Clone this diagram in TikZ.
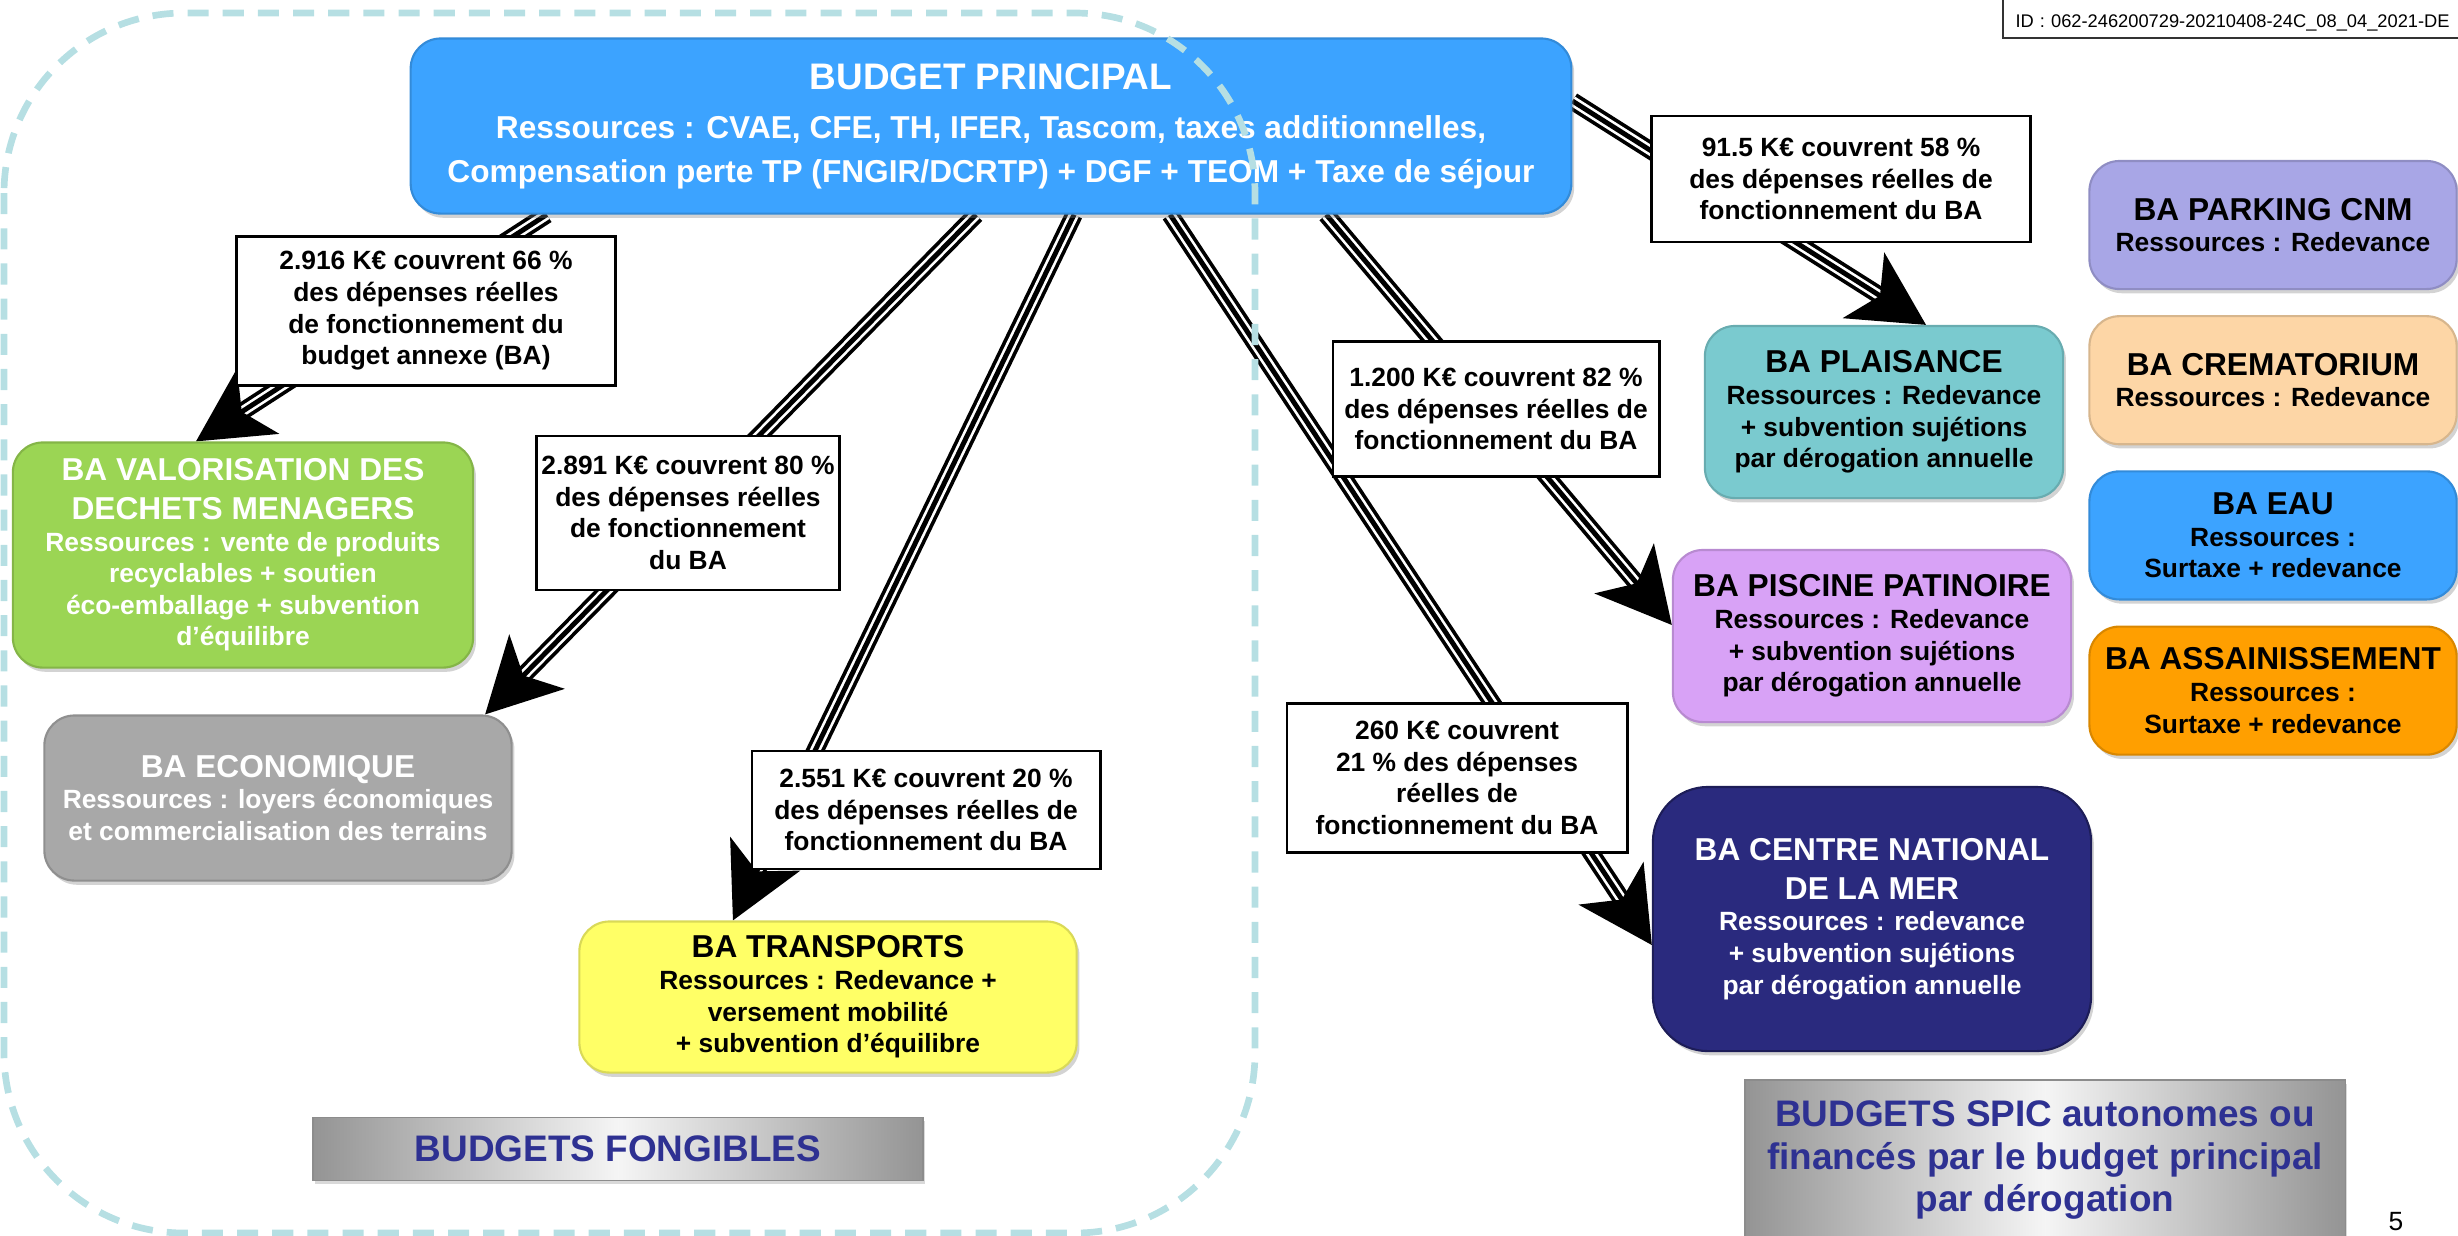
\documentclass[tikz,border=0pt]{standalone}
\usepackage{fontspec}
\setmainfont{Liberation Sans}
\usetikzlibrary{positioning}
\usetikzlibrary{arrows.meta}
\usetikzlibrary{shadows}
\pgfdeclarelayer{background}
\pgfsetlayers{background,main}
\definecolor{principal}{HTML}{3CA3FF}
\definecolor{valorisation}{HTML}{9BD554}
\definecolor{economique}{HTML}{A8A8A8}
\definecolor{transports}{HTML}{FFFF66}
\definecolor{plaisance}{HTML}{7ACACF}
\definecolor{piscine}{HTML}{D8A2F6}
\definecolor{centremer}{HTML}{2A2A7E}
\definecolor{parking}{HTML}{A8A6E6}
\definecolor{crematorium}{HTML}{FDD6A6}
\definecolor{assainissement}{HTML}{FF9F00}
\definecolor{navytext}{HTML}{2E3192}
\definecolor{fongible}{HTML}{B6DFE3}
\newcommand{\bigtitle}{\fontsize{10.5}{12.5}\selectfont}
\newcommand{\boxtitle}{\fontsize{9}{11}\selectfont}
\tikzset{
	block/.style={
		rectangle,
		rounded corners=.3cm,
		align=center,
		inner sep=0pt,
		line width=.6pt,
		font=\fontsize{7.5}{9}\selectfont\bfseries,
		drop shadow={opacity=.35, shadow xshift=.8pt, shadow yshift=-1.2pt}
	},
	cover/.style={
		rectangle,
		draw,
		fill=white,
		line width=.8pt,
		align=center,
		inner sep=0pt,
		font=\fontsize{7.5}{9}\selectfont\bfseries
	},
	banner/.style={
		rectangle,
		draw=black!45,
		left color=black!42,
		right color=black!42,
		middle color=black!4,
		text=navytext,
		align=center,
		inner sep=0pt,
		font=\fontsize{10.5}{12}\selectfont\bfseries,
		drop shadow={opacity=.3, shadow xshift=.6pt, shadow yshift=-1pt}
	},
	stripe/.style={
		line width=5pt,
		shorten >=14pt,
		postaction={draw, white, line width=2.9pt},
		postaction={draw, black, line width=1.4pt, shorten >=0pt, -{Stealth[length=21pt, width=22pt, inset=5.5pt]}}
	}
}
\begin{document}
\begin{tikzpicture}[x=0.01cm, y=-0.01cm]
			\useasboundingbox (0,0) rectangle (2458,1235);
			% budget principal and fungible budgets
			\draw node[block, fill=principal, draw=principal!85!black, text=white, minimum width=11.6cm, minimum height=1.75cm, font=\fontsize{9}{12.5}\selectfont\bfseries](Principal) at (991,126){\bigtitle BUDGET PRINCIPAL\\[1.5pt] Ressources : CVAE, CFE, TH, IFER, Tascom, taxes additionnelles,\\ Compensation perte TP (FNGIR/DCRTP) + DGF + TEOM + Taxe de séjour};
			\draw node[block, fill=valorisation, draw=valorisation!85!black, text=white, minimum width=4.6cm, minimum height=2.25cm](Valorisation) at (243,555){\boxtitle BA VALORISATION DES\\[2pt] \boxtitle DECHETS MENAGERS\\ Ressources : vente de produits\\ recyclables + soutien\\ éco-emballage + subvention\\ d’équilibre};
			\draw node[block, fill=economique, draw=economique!85!black, text=white, minimum width=4.67cm, minimum height=1.65cm](Economique) at (278,798){\boxtitle BA ECONOMIQUE\\ Ressources : loyers économiques\\ et commercialisation des terrains};
			\draw node[block, fill=transports, draw=transports!85!black, minimum width=4.97cm, minimum height=1.51cm](Transports) at (828,997){\boxtitle BA TRANSPORTS\\ Ressources : Redevance +\\ versement mobilité\\ + subvention d’équilibre};
			\draw node[banner, minimum width=6.1cm, minimum height=.63cm](Fongibles) at (618,1149){BUDGETS FONGIBLES};
			
			% budgets SPIC
			\draw node[block, fill=plaisance, draw=plaisance!85!black, minimum width=3.58cm, minimum height=1.72cm](Plaisance) at (1884,412){\boxtitle BA PLAISANCE\\ Ressources : Redevance\\ + subvention sujétions\\ par dérogation annuelle};
			\draw node[block, fill=piscine, draw=piscine!85!black, minimum width=3.98cm, minimum height=1.72cm](Piscine) at (1872,636){\boxtitle BA PISCINE PATINOIRE\\ Ressources : Redevance\\ + subvention sujétions\\ par dérogation annuelle};
			\draw node[block, rounded corners=.55cm, fill=centremer, draw=centremer!70!black, text=white, minimum width=4.38cm, minimum height=2.64cm](CentreMer) at (1872,919){\boxtitle BA CENTRE NATIONAL\\[2pt] \boxtitle DE LA MER\\ Ressources : redevance\\ + subvention sujétions\\ par dérogation annuelle};
			\draw node[block, fill=parking, draw=parking!85!black, minimum width=3.67cm, minimum height=1.28cm](Parking) at (2273,225){\boxtitle BA PARKING CNM\\ Ressources : Redevance};
			\draw node[block, fill=crematorium, draw=crematorium!85!black, minimum width=3.67cm, minimum height=1.28cm, below=.25cm of Parking](Crematorium){\boxtitle BA CREMATORIUM\\ Ressources : Redevance};
			\draw node[block, fill=principal, draw=principal!85!black, minimum width=3.67cm, minimum height=1.28cm, below=.25cm of Crematorium](Eau){\boxtitle BA EAU\\ Ressources :\\ Surtaxe + redevance};
			\draw node[block, fill=assainissement, draw=assainissement!85!black, minimum width=3.67cm, minimum height=1.28cm, below=.25cm of Eau](Assainissement){\boxtitle BA ASSAINISSEMENT\\ Ressources :\\ Surtaxe + redevance};
			\draw node[banner, minimum width=6.0cm, minimum height=1.6cm](Spic) at (2045,1160){BUDGETS SPIC autonomes ou\\ financés par le budget principal\\ par dérogation};
			
			% coverage labels
			\draw node[cover, minimum width=3.78cm, minimum height=1.49cm](CoverValo) at (426,311){2.916 K€ couvrent 66 \%\\ des dépenses  réelles\\ de fonctionnement du\\ budget annexe (BA)};
			\draw node[cover, minimum width=3.03cm, minimum height=1.54cm](CoverEco) at (688,513){2.891 K€ couvrent 80 \%\\ des dépenses réelles\\ de fonctionnement\\ du BA};
			\draw node[cover, minimum width=3.48cm, minimum height=1.18cm](CoverTransports) at (926,810){2.551 K€ couvrent 20 \%\\ des dépenses  réelles de\\ fonctionnement  du BA};
			\draw node[cover, minimum width=3.79cm, minimum height=1.26cm](CoverPlaisance) at (1841,179){91.5 K€ couvrent  58 \%\\ des dépenses réelles de\\ fonctionnement du BA};
			\draw node[cover, minimum width=3.26cm, minimum height=1.35cm](CoverPiscine) at (1496,409){1.200 K€ couvrent  82 \%\\ des dépenses réelles de\\ fonctionnement du BA};
			\draw node[cover, minimum width=3.4cm, minimum height=1.49cm](CoverMer) at (1457,778){260 K€ couvrent\\ 21 \% des dépenses\\ réelles de\\ fonctionnement du BA};
			
			\draw node[draw=black!80, line width=.7pt, anchor=south west, text width=4.6cm, align=left, text height=20pt, text depth=0pt, inner xsep=3.5pt, inner ysep=2.8pt, font=\fontsize{5.2}{6}\selectfont](Ident) at (2002,39){ID : 062-246200729-20210408-24C\_08\_04\_2021-DE};
			\draw node[font=\fontsize{7.5}{9}\selectfont, inner sep=0pt](PageNum) at (2396,1222){5};
			
			% striped arrows
			\begin{pgfonlayer}{background}
				\draw [stripe] ([xshift=-4.44cm] Principal.south) -- ([xshift=-.47cm] Valorisation.north);
				\draw [stripe] ([xshift=-.15cm] Principal.south) -- ([xshift=2.07cm] Economique.north);
				\draw [stripe] ([xshift=.83cm] Principal.south) -- ([xshift=-.95cm] Transports.north);
				\draw [stripe] ([xshift=1.79cm] Principal.south) -- ([yshift=-.26cm] CentreMer.west);
				\draw [stripe] ([xshift=3.35cm] Principal.south) -- ([yshift=.11cm] Piscine.west);
				\draw [stripe] ([yshift=.25cm] Principal.east) -- ([xshift=.42cm] Plaisance.north);
			\end{pgfonlayer}
			
			\draw[fongible, line width=1.9pt, dash pattern=on 6pt off 4pt, rounded corners=1.8cm] (4,13) rectangle (1255,1233);
		\end{tikzpicture}
\end{document}
